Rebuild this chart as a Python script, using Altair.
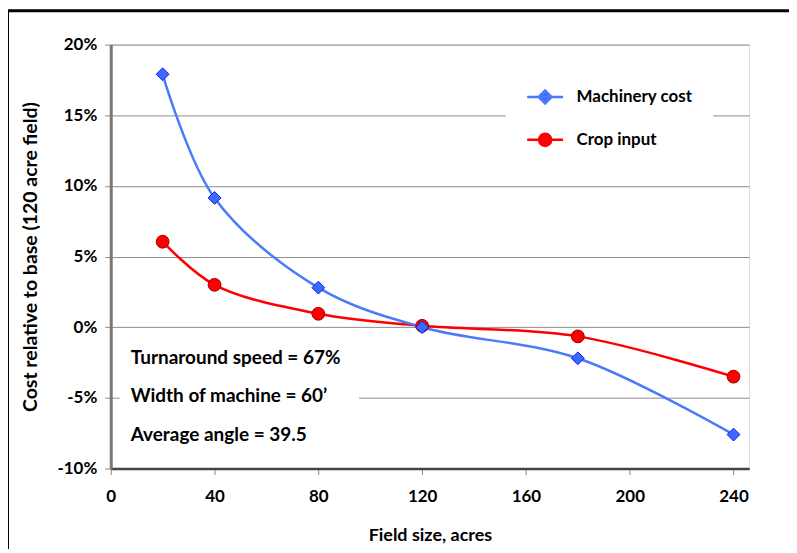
import altair as alt
import pandas as pd

# ---- data ----
field_size = [20, 40, 80, 120, 180, 240]
machinery_cost = [17.9, 9.15, 2.8, 0.0, -2.2, -7.6]
crop_input = [6.05, 3.0, 0.95, 0.1, -0.65, -3.5]
series_names = ["Machinery cost", "Crop input"]
x_ticks = [0, 40, 80, 120, 160, 200, 240]
y_ticks = [-10, -5, 0, 5, 10, 15, 20]
notes = ["Turnaround speed = 67%", "Width of machine = 60\u2019", "Average angle = 39.5"]

FONT = "Lato"

df = pd.DataFrame({
    "size": field_size * 2,
    "cost": machinery_cost + crop_input,
    "series": [series_names[0]] * len(field_size) + [series_names[1]] * len(field_size),
})

x_enc = alt.X(
    "size:Q",
    scale=alt.Scale(domain=[0, 246], nice=False, zero=False),
    axis=alt.Axis(
        values=x_ticks, grid=False, title="Field size, acres", labelFlush=False,
        domainColor="#444", domainWidth=2.5, tickColor="#888", tickSize=6, tickWidth=1,
        labelPadding=14, titlePadding=22, labelFont=FONT, titleFont=FONT,
        labelFontSize=17, titleFontSize=18, labelFontWeight="bold", titleFontWeight="bold",
        labelColor="black", titleColor="black",
    ),
)
y_enc = alt.Y(
    "cost:Q",
    scale=alt.Scale(domain=[-10, 20], nice=False, zero=False),
    axis=alt.Axis(
        values=y_ticks, labelExpr="datum.value + '%'", grid=True, gridColor="#8c8c8c", gridWidth=1,
        title="Cost relative to base (120 acre field)",
        domainColor="#777", domainWidth=3, tickColor="#888", tickSize=6, tickWidth=1,
        labelPadding=8, titlePadding=16, labelFont=FONT, titleFont=FONT,
        labelFontSize=17, titleFontSize=19.5, labelFontWeight="bold", titleFontWeight="bold",
        labelColor="black", titleColor="black",
    ),
)

base = alt.Chart(df).encode(x=x_enc, y=y_enc)


def series_layers(name, line_color, fill, stroke, shape, size):
    sub = base.transform_filter(alt.datum.series == name)
    line = sub.mark_line(interpolate="catmull-rom", color=line_color, strokeWidth=2.5)
    pts = sub.mark_point(filled=True, shape=shape, size=size, fill=fill,
                         stroke=stroke, strokeWidth=1, opacity=1)
    return line, pts


m_line, m_pts = series_layers(series_names[0], "#4A7CFA", "#3A6BFF", "#1A1AE6", "diamond", 165)
c_line, c_pts = series_layers(series_names[1], "#FF0000", "#FF0000", "#A00000", "circle", 165)

# ---- legend (built-in, with line+marker symbols) ----
diamond_path = "M-1,0L1,0M-0.36,0L0,-0.36L0.36,0L0,0.36Z"
circle_path = "M-1,0L1,0M-0.34,0A0.34,0.34,0,1,1,0.34,0A0.34,0.34,0,1,1,-0.34,0Z"

legend = alt.Legend(
    orient="none", legendX=396, legendY=13, title=None, fillColor="white", padding=20,
    symbolSize=1296, symbolStrokeWidth=2.5, symbolOpacity=1, labelFont=FONT,
    labelFontSize=17, labelFontWeight="bold", labelColor="black", labelOffset=12, rowPadding=12,
)
leg_df = pd.DataFrame({"series": series_names})
leg_layer = alt.Chart(leg_df).mark_point(filled=True, opacity=0).encode(
    shape=alt.Shape("series:N", scale=alt.Scale(domain=series_names, range=[diamond_path, circle_path]), legend=legend),
    fill=alt.Fill("series:N", scale=alt.Scale(domain=series_names, range=["#3A6BFF", "#FF0000"]), legend=legend),
    stroke=alt.Stroke("series:N", scale=alt.Scale(domain=series_names, range=["#4A7CFA", "#FF0000"]), legend=legend),
)

# ---- annotation box ----
note_box = alt.Chart(pd.DataFrame({"a": [0]})).mark_rect(fill="white").encode(
    x=alt.value(9), x2=alt.value(249), y=alt.value(294), y2=alt.value(416)
)
note_text = alt.Chart(pd.DataFrame({"a": [0]})).mark_text(
    text="\n".join(notes), lineBreak="\n", lineHeight=38.5, align="left", baseline="middle",
    font=FONT, fontSize=19, fontWeight="bold", color="black",
).encode(x=alt.value(20), y=alt.value(314))

# ---- outer frame ----
frame = alt.Chart(pd.DataFrame({"a": [0]})).mark_rect(fill="white", fillOpacity=0, stroke="black", strokeWidth=3).encode(
    x=alt.value(-103.5), x2=alt.value(720), y=alt.value(-34), y2=alt.value(540)
)

chart = alt.layer(
    frame, note_box, note_text, c_line, m_line, c_pts, m_pts, leg_layer
).properties(
    width=640, height=425,
    autosize=alt.AutoSizeParams(type="none"),
    padding={"left": 103, "top": 36, "right": 40, "bottom": 80},
).configure_view(stroke="#222", strokeWidth=2).configure(font=FONT)

chart.save("out.html", embed_options={"renderer": "svg", "actions": False})
